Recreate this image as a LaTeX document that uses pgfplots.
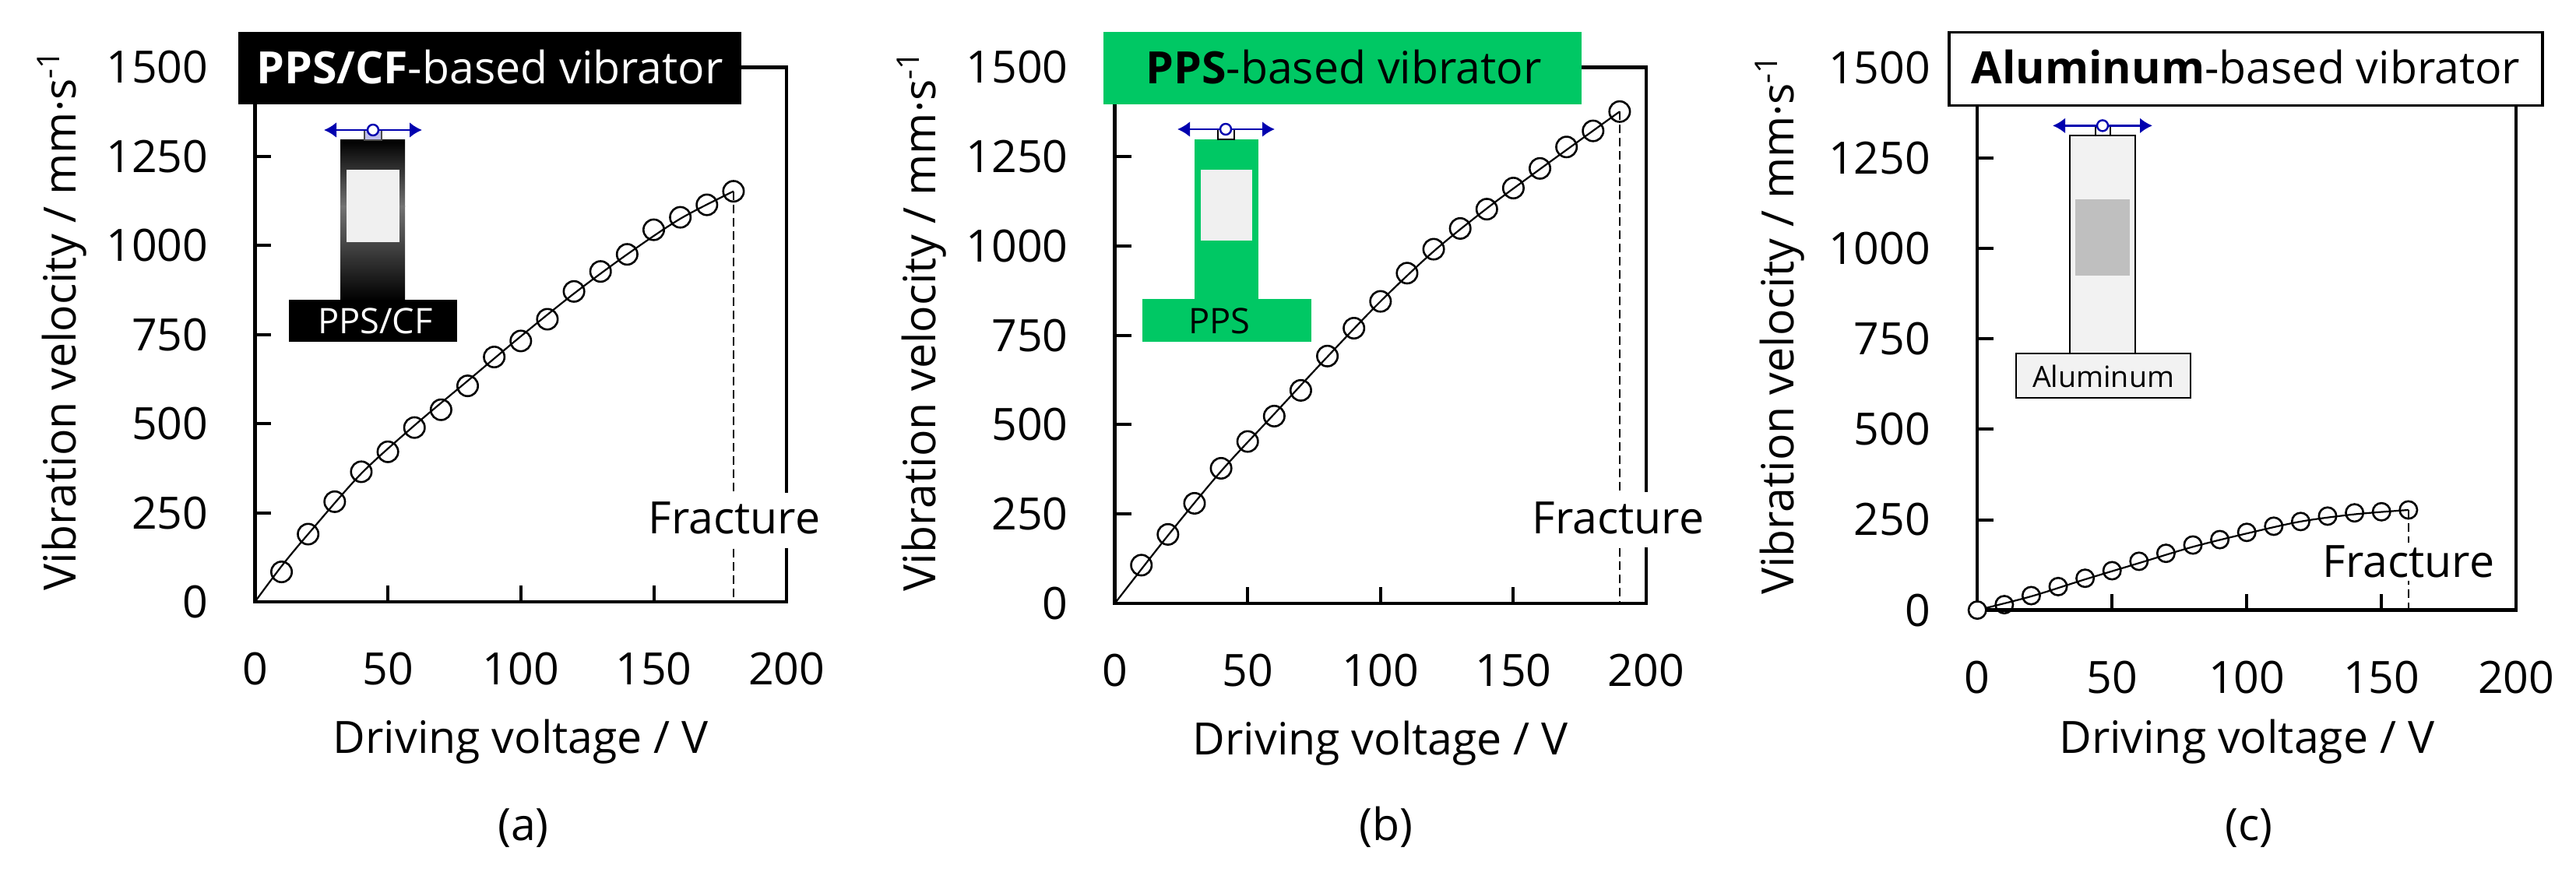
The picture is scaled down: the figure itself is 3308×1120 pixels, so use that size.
\documentclass[border=0pt]{standalone}
\usepackage{fontspec}
\setmainfont{Open Sans}
\usepackage{pgfplots}
\pgfplotsset{compat=1.18}
\usetikzlibrary{arrows.meta}

\definecolor{ppsgreen}{RGB}{0,200,100}
\definecolor{arrowblue}{RGB}{0,0,175}

% 1 unit of the picture = 1 pixel of the reference (0.25pt)
\pgfplotsset{
  panel/.style={
    scale only axis, clip=false,
    xmin=0, xmax=200, ymin=0, ymax=1500,
    xtick={0,50,100,150,200},
    ytick={0,250,500,750,1000,1250,1500},
    xtick pos=bottom, ytick pos=left,
    tick align=inside, major tick length=5.25pt,
    axis line style={line width=1.1pt},
    tick style={line width=1pt, black},
    /pgf/number format/assume math mode=true,
    /pgf/number format/1000 sep={},
    tick label style={font=\fontsize{14.3}{16}\selectfont},
    yticklabel style={xshift=-11.5pt},
    xticklabel style={anchor=center, yshift=-21.5pt},
    label style={font=\fontsize{14.3}{16}\selectfont},
    xlabel={Driving voltage / V},
    ylabel={Vibration velocity / mm·s\textsuperscript{-1}},
  },
  pts/.style={only marks, mark=o, mark size=3.3pt, mark options={line width=0.65pt, black}},
  trend/.style={black, line width=0.55pt, smooth, no marks},
  frac/.style={black, line width=0.5pt, dash pattern=on 2.75pt off 1.5pt, no marks},
}

\newcommand{\bigtxt}{\fontsize{14.3}{16}\selectfont}
\newcommand{\smalltxt}{\fontsize{11.3}{13}\selectfont}

\begin{document}
\begin{tikzpicture}[x=0.25pt, y=-0.25pt]
\path (0,0) rectangle (3308,1120);

% (a)
\begin{axis}[panel, at={(81.85pt,-193.25pt)}, anchor=south west, width=170.7pt, height=171.65pt,
  xlabel style={at={(axis description cs:0.5,0)}, anchor=center, yshift=-45pt},
  ylabel style={at={(axis description cs:0,0.5)}, anchor=center, xshift=4.7pt, yshift=62pt}]
\addplot[trend] coordinates {
  (0,0) (10,100) (20,190) (40,360) (60,495) (80,620) (100,745) (120,865) (140,975) (160,1075) (180,1152)
};
\addplot[frac] coordinates {(180,1152) (180,0)};
\addplot[pts] coordinates {
  (10,84) (20,190) (30,281) (40,365) (50,421) (60,489) (70,539) (80,606) (90,687)
  (100,732) (110,793) (120,871) (130,927) (140,975) (150,1044) (160,1079) (170,1114) (180,1152)
};
\end{axis}

% (b)
\begin{axis}[panel, at={(357.9pt,-193.75pt)}, anchor=south west, width=170.6pt, height=172.15pt,
  xlabel style={at={(axis description cs:0.5,0)}, anchor=center, yshift=-44.8pt},
  ylabel style={at={(axis description cs:0,0.5)}, anchor=center, xshift=4.7pt, yshift=62pt}]
\addplot[trend] coordinates {
  (0,0) (20,190) (40,370) (60,530) (80,690) (100,845) (120,985) (140,1105) (160,1215) (190,1376)
};
\addplot[frac] coordinates {(190,1376) (190,0)};
\addplot[pts] coordinates {
  (10,107) (20,193) (30,280) (40,378) (50,453) (60,524) (70,596) (80,692) (90,770) (100,845)
  (110,924) (120,991) (130,1049) (140,1103) (150,1162) (160,1217) (170,1277) (180,1322) (190,1376)
};
\end{axis}

% (c)
\begin{axis}[panel, at={(634.8pt,-195.9pt)}, anchor=south west, width=173pt, height=174.1pt,
  xlabel style={at={(axis description cs:0.5,0)}, anchor=center, yshift=-42.2pt},
  ylabel style={at={(axis description cs:0,0.5)}, anchor=center, xshift=4.7pt, yshift=63.5pt}]
\addplot[trend] coordinates {
  (0,0) (20,38) (40,85) (60,130) (80,175) (100,212) (120,245) (140,265) (160,277)
};
\addplot[frac] coordinates {(160,277) (160,0)};
\addplot[pts, mark size=2.8pt] coordinates {
  (10,15) (20,40) (30,65) (40,88) (50,109) (60,135) (70,157) (80,180) (90,195) (100,215)
  (110,232) (120,245) (130,260) (140,269) (150,272) (160,277)
};
\addplot[only marks, mark=*, mark size=2.8pt, mark options={line width=0.65pt, draw=black, fill=white}]
  coordinates {(0,0)};
\end{axis}

% Fracture labels
\fill[white] (837,633) rectangle (1052,704);
\node[font=\bigtxt] at (943,665) {Fracture};
\fill[white] (1970,632) rectangle (2187,703);
\node[font=\bigtxt] at (2078,665) {Fracture};
\fill[white] (2985,697) rectangle (3205,746);
\node[font=\bigtxt] at (3093,721) {Fracture};

% title boxes
\fill[black] (306,41.4) rectangle (952,134);
\node[white, font=\bigtxt] at (629,86.4) {\textbf{PPS/CF}-based vibrator};
\fill[ppsgreen] (1417,41.4) rectangle (2031,134);
\node[black, font=\bigtxt] at (1725.4,86.4) {\textbf{PPS}-based vibrator};
\draw[black, fill=white, line width=0.8pt] (2503,41.4) rectangle (3265,135.7);
\node[black, font=\bigtxt] at (2884,86.4) {\textbf{Aluminum}-based vibrator};

% inset (a)
\shade[top color=black, bottom color=black!55] (437,180) rectangle (520,266);
\shade[top color=black!55, bottom color=black] (437,265) rectangle (520,386);
\fill[black!6] (445,218) rectangle (513,311);
\fill[black] (371,385) rectangle (587,439);
\node[white, font=\smalltxt] at (482,412) {PPS/CF};
\draw[black!70, fill=arrowblue!25, line width=0.4pt] (468,167) rectangle (490,180);
\draw[arrowblue, line width=0.7pt, {Latex[length=4pt,width=5pt]}-{Latex[length=4pt,width=5pt]}] (416,167) -- (542,167);
\draw[arrowblue, fill=white, line width=0.6pt] (479,167) circle [radius=7];

% inset (b)
\fill[ppsgreen] (1534,178.6) rectangle (1616,385);
\fill[black!6] (1542,218) rectangle (1608,309);
\fill[ppsgreen] (1467,384) rectangle (1684,439);
\node[black, font=\smalltxt] at (1566,412) {PPS};
\draw[black, fill=white, line width=0.5pt] (1564,166) rectangle (1585,178.6);
\draw[arrowblue, line width=0.7pt, {Latex[length=4pt,width=5pt]}-{Latex[length=4pt,width=5pt]}] (1512,166) -- (1637,166);
\draw[arrowblue, fill=white, line width=0.6pt] (1574,166) circle [radius=7];

% inset (c)
\draw[black, fill=black!5, line width=0.5pt] (2658,173.6) rectangle (2742,453.6);
\fill[black!25] (2665,255.7) rectangle (2735,354);
\draw[black, fill=black!5, line width=0.5pt] (2589,453.6) rectangle (2813,510.7);
\node[black, font=\fontsize{9.4}{11}\selectfont] at (2701,483.6) {Aluminum};
\draw[black, fill=white, line width=0.5pt] (2691,161.4) rectangle (2710,173.6);
\draw[arrowblue, line width=0.7pt, {Latex[length=4pt,width=5pt]}-{Latex[length=4pt,width=5pt]}] (2636,161.4) -- (2764,161.4);
\draw[arrowblue, fill=white, line width=0.6pt] (2700,161.4) circle [radius=7];

% panel letters
\node[font=\bigtxt] at (672,1064) {(a)};
\node[font=\bigtxt] at (1780,1062) {(b)};
\node[font=\bigtxt] at (2888,1064) {(c)};
\end{tikzpicture}
\end{document}
